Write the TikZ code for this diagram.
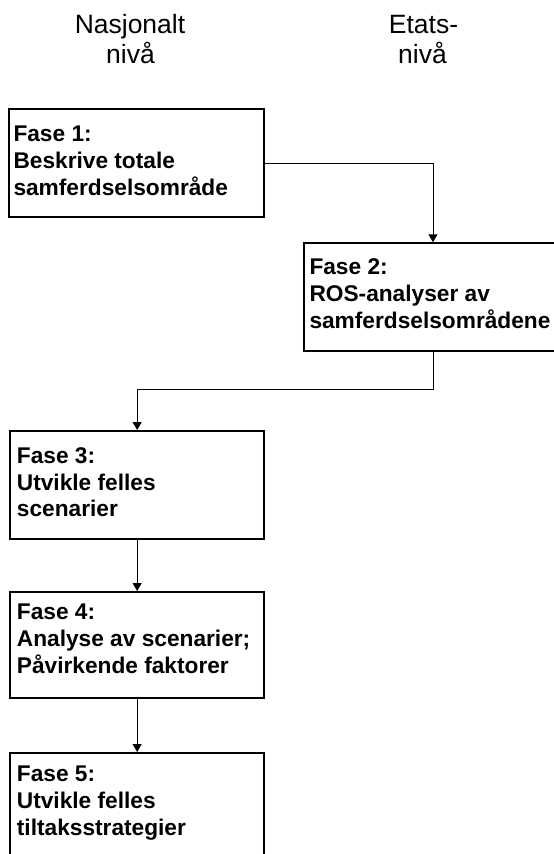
\documentclass[tikz,border=0pt]{standalone}
\usepackage{fontspec}
\setmainfont{Liberation Sans}
\usetikzlibrary{arrows.meta}
\begin{document}
\begin{tikzpicture}[x=1pt,y=-1pt,
  phasebox/.style={draw,line width=2pt,anchor=north west,inner sep=0pt},
  phasetext/.style={anchor=base west,align=left,inner sep=0pt,
    font=\fontsize{22.7}{26.7}\selectfont\bfseries},
  header/.style={anchor=base,inner sep=0pt,font=\fontsize{26.5}{32}\selectfont},
  flow/.style={line width=1pt,-{Triangle[length=8pt,width=9pt]}}]
\useasboundingbox (0,0) rectangle (554,854);
\clip (0,0) rectangle (554,854);

% column headings
\node[header] (hnat1) at (130,33.3) {Nasjonalt};
\node[header] (hnat2) at (130.5,63.5) {nivå};
\node[header] (heta1) at (423.5,33.3) {Etats-};
\node[header] (heta2) at (422.5,63.5) {nivå};

% phase boxes
\node[phasebox,minimum width=255pt,minimum height=107.7pt] (b1) at (8.3,108.3) {};
\node[phasebox,minimum width=300pt,minimum height=107.7pt] (b2) at (303,242.3) {};
\node[phasebox,minimum width=254.3pt,minimum height=108pt] (b3) at (9,430) {};
\node[phasebox,minimum width=254.3pt,minimum height=106pt] (b4) at (9,591) {};
\node[phasebox,minimum width=254.3pt,minimum height=130pt] (b5) at (9,752) {};

% box texts (anchored on the last line's baseline)
\node[phasetext] (t1) at (13.3,195) {Fase 1:\\Beskrive totale\\samferdselsområde};
\node[phasetext] (t2) at (309.3,328.3) {Fase 2:\\ROS-analyser av\\samferdselsområdene};
\node[phasetext] (t3) at (16.7,516.7) {Fase 3:\\Utvikle felles\\scenarier};
\node[phasetext] (t4) at (16.7,673.3) {Fase 4:\\Analyse av scenarier;\\Påvirkende faktorer};
\node[phasetext] (t5) at (16.7,835) {Fase 5:\\Utvikle felles\\tiltaksstrategier};

% connectors
\coordinate (in2) at ([xshift=130pt]b2.north west);
\coordinate (out2) at ([xshift=130pt]b2.south west);
\draw[flow] (b1.east) -| (in2);
\draw[flow] (out2) |- ([yshift=40.7pt]b3.north) -- (b3.north);
\draw[flow] (b3.south) -- (b4.north);
\draw[flow] (b4.south) -- (b5.north);
\end{tikzpicture}
\end{document}
